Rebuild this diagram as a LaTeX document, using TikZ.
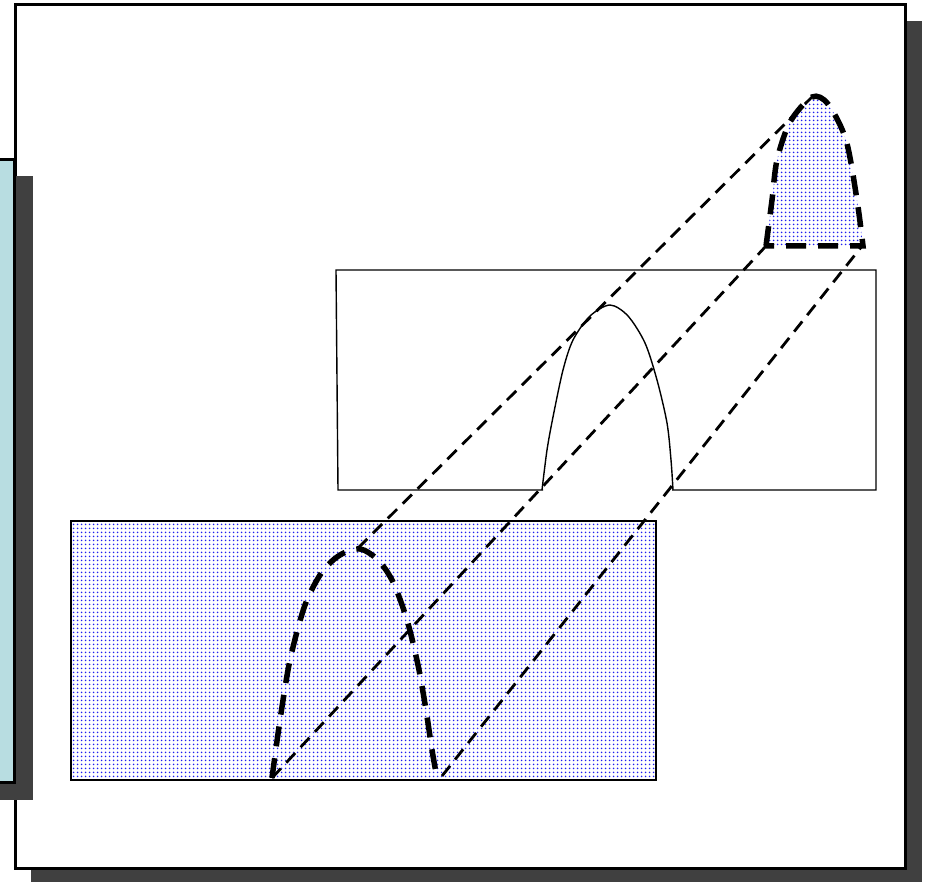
\documentclass[tikz,border=0pt]{standalone}
\usetikzlibrary{patterns.meta}
\definecolor{shadowgray}{HTML}{404040}
\definecolor{panelblue}{HTML}{B8DDE1}
\definecolor{dotblue}{HTML}{2020F0}
\tikzdeclarepattern{
  name=bluedots,
  type=colored,
  bottom left={(0pt,0pt)},
  top right={(4pt,4pt)},
  tile size={(4pt,4pt)},
  code={\pgfsetfillcolor{dotblue}\pgfpathcircle{\pgfpoint{2pt}{2pt}}{1.1pt}\pgfusepath{fill}}
}
\begin{document}
\begin{tikzpicture}[x=1pt,y=-1pt,
 frame/.style={draw=black,line width=3pt,fill=white},
 shadowbox/.style={fill=shadowgray,draw=none},
 dotfill/.style={pattern=bluedots},
 thickdash/.style={line width=5.5pt,dash pattern=on 20pt off 12pt},
 thindash/.style={line width=2.8pt,dash pattern=on 13pt off 8pt},
 thinline/.style={line width=1.4pt}]
\useasboundingbox (0,0) rectangle (925,882);
\clip (0,0) rectangle (925,882);
% main frame with shadow
\fill[shadowbox] (31,21) rectangle (922,884);
\draw[frame] (15,5) rectangle (905,868);
% left panel with shadow
\fill[shadowbox] (-10,176) rectangle (33,800);
\draw[frame,fill=panelblue] (-10,160) rectangle (14,782);
% bottom dotted rectangle
\fill[white] (71,521) rectangle (656,780);
\path[dotfill] (71,521) rectangle (656,780);
\draw[thinline] (71,521) rectangle (656,780);
% middle rectangle with arch
\draw[thinline] (543,490) -- (338,490) -- (336,270) -- (876,270) -- (876,490) -- (672,490);
\draw[thinline] plot[smooth] coordinates {(542,490) (547,450) (553,417) (563,370) (573,340) (590,316) (610,305) (628,316) (645,343) (657,380) (667,423) (671,460) (673,490)};
% top-right dotted arch
\fill[white] plot[smooth] coordinates {(766,246) (772,200) (777,160) (790,122) (812,97) (828,104) (846,140) (857,200) (863,246)} -- cycle;
\path[dotfill] plot[smooth] coordinates {(766,246) (772,200) (777,160) (790,122) (812,97) (828,104) (846,140) (857,200) (863,246)} -- cycle;
\draw[thickdash] plot[smooth] coordinates {(766,246) (772,200) (777,160) (790,122) (812,97) (828,104) (846,140) (857,200) (863,246)} -- cycle;
% bottom dashed arch
\draw[thickdash] plot[smooth] coordinates {(272,778) (280,720) (290,660) (305,605) (322,572) (340,555) (360,549) (378,560) (393,582) (407,620) (418,665) (426,710) (432,750) (437,778)};
% named end points
\coordinate (apexT) at (812,97);
\coordinate (blT) at (766,246);
\coordinate (brT) at (862,246);
\coordinate (apexB) at (358,548);
\coordinate (blB) at (272,778);
\coordinate (brB) at (442,776);
% projection lines
\draw[thindash] (apexB) -- (apexT);
\draw[thindash] (blB) -- (blT);
\draw[thindash] (brB) -- (brT);
\end{tikzpicture}
\end{document}
